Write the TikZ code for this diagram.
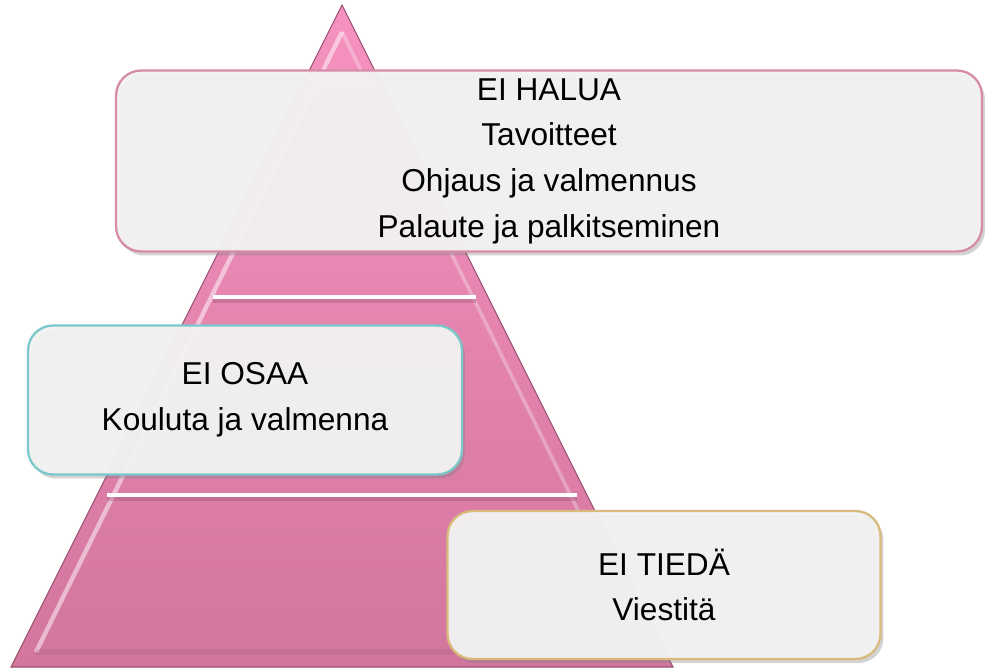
\documentclass[tikz,border=0pt]{standalone}
\usepackage{fontspec}
\setmainfont{Liberation Sans}
\usetikzlibrary{shadows,calc}
\definecolor{pinktop}{RGB}{246,146,192}
\definecolor{pinkbot}{RGB}{210,118,158}
\definecolor{pinkedge}{RGB}{150,80,110}
\definecolor{boxfill}{RGB}{243,242,243}
\definecolor{rimpink}{RGB}{214,140,168}
\definecolor{rimteal}{RGB}{122,200,202}
\definecolor{rimtan}{RGB}{218,186,124}
\tikzset{
    level/.style = {rounded corners=0.5cm, fill=boxfill, fill opacity=0.96, text opacity=1,
        line width=1.3pt, align=center, font=\fontsize{18}{26}\selectfont,
        drop shadow={opacity=0.35, shadow xshift=0.06cm, shadow yshift=-0.08cm}},
    band/.style = {white, line width=2.8pt},
    bandshade/.style = {pinkedge, opacity=0.35, line width=2.5pt}
}

\begin{document}
\begin{tikzpicture}[x=0.02cm, y=-0.02cm]
    \useasboundingbox (0,0) rectangle (989,670);

    % pyramid
    \coordinate (top) at (342,5);
    \coordinate (bl) at (11,667);
    \coordinate (br) at (673,667);
    \shade[top color=pinktop, bottom color=pinkbot, draw=pinkedge, line width=0.6pt]
        (top) -- (br) -- (bl) -- cycle;
    % bevel
    \coordinate (itop) at (342,32);
    \coordinate (ibl) at (36,652);
    \coordinate (ibr) at (648,652);
    \draw[white, opacity=0.5, line width=2.5pt] (itop) -- (ibl);
    \draw[white, opacity=0.3, line width=2pt] (itop) -- (ibr);
    \draw[pinkedge, opacity=0.2, line width=3pt] (ibl) -- (ibr);

    % bands
    \draw[bandshade] (213,301) -- (476,301);
    \draw[band] (213,297) -- (476,297);
    \draw[bandshade] (107,499) -- (577,499);
    \draw[band] (107,495) -- (577,495);

    % boxes
    \node[level, draw=rimpink, minimum width=17.32cm, minimum height=3.62cm] (halua) at (549,161)
        {EI HALUA\\Tavoitteet\\Ohjaus ja valmennus\\Palaute ja palkitseminen};
    \node[level, draw=rimteal, minimum width=8.68cm, minimum height=2.98cm] (osaa) at (245,400)
        {EI OSAA\\Kouluta ja valmenna};
    \node[level, draw=rimtan, minimum width=8.66cm, minimum height=2.96cm] (tieda) at (664,585)
        {EI TIEDÄ\\Viestitä};
\end{tikzpicture}
\end{document}
